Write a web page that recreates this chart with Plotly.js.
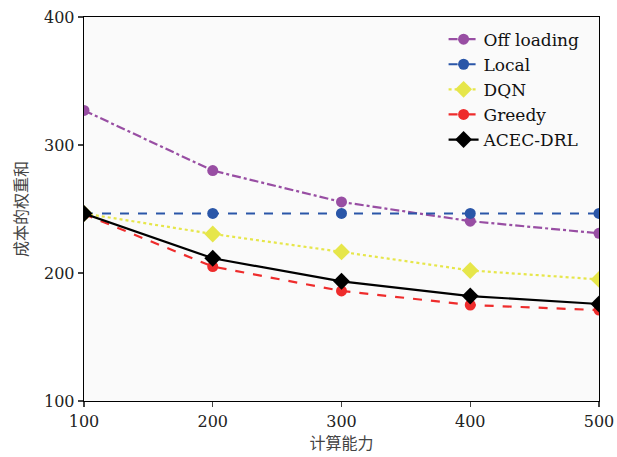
<!DOCTYPE html>
<html><head><meta charset="utf-8">
<script src="https://cdn.plot.ly/plotly-3.0.1.min.js"></script>
<style>html,body{margin:0;padding:0;background:#fff;}</style>
</head><body><div id="chart" style="width:617px;height:457px;"></div>
<script>
const computeCapacity = [100, 200, 300, 400, 500];
const offLoading = [327, 280, 255.5, 240.5, 231];
const local = [246.5, 246.5, 246.5, 246.5, 246.5];
const dqn = [246.5, 230.5, 216.5, 202, 195];
const greedy = [246, 205, 186, 175, 171];
const acecDrl = [246.5, 211.5, 193.5, 182, 175.8];
const yTicks = [100, 200, 300, 400];
const xTicks = [100, 200, 300, 400, 500];

const mk = (name, y, color, dash, symbol, size) => ({
  x: computeCapacity, y: y, name: name, type: 'scatter', mode: 'lines+markers',
  line: {color: color, dash: dash, width: 2.2},
  marker: {color: color, symbol: symbol, size: size}
});
const traces = [
  mk('Off loading', offLoading, '#984ea3', 'dashdot', 'circle', 11),
  mk('Local', local, '#2a56a8', 'dash', 'circle', 11),
  mk('DQN', dqn, '#e6e64a', 'dot', 'diamond', 13),
  mk('Greedy', greedy, '#ee2c2c', 'dash', 'circle', 11),
  mk('ACEC-DRL', acecDrl, '#000000', 'solid', 'diamond', 13)
];
const serif = 'DejaVu Serif';
const layout = {
  width: 617, height: 457,
  margin: {l: 84, r: 18, t: 17, b: 56},
  paper_bgcolor: '#ffffff', plot_bgcolor: '#fafafa',
  font: {family: serif, size: 16, color: '#222'},
  showlegend: true,
  legend: {x: 0.972, y: 0.988, xanchor: 'right', yanchor: 'top', bgcolor: 'rgba(0,0,0,0)',
           font: {family: serif, size: 17, color: '#111'}, tracegroupgap: 0},
  xaxis: {range: [100, 500], tickvals: xTicks, ticks: 'outside', ticklen: 5, tickwidth: 1.2,
          showline: true, linecolor: '#000', linewidth: 1.3, mirror: true, showgrid: false, zeroline: false,
          title: {text: '计算能力', font: {family: 'Noto Sans CJK SC', size: 16, color: '#444'}, standoff: 2},
          tickfont: {family: serif, size: 16, color: '#222'}},
  yaxis: {range: [100, 400], tickvals: yTicks, ticks: 'outside', ticklen: 5, tickwidth: 1.2,
          showline: true, linecolor: '#000', linewidth: 1.3, mirror: true, showgrid: false, zeroline: false,
          title: {text: '成本的权重和', font: {family: 'Noto Sans CJK SC', size: 16, color: '#444'}, standoff: 12},
          tickfont: {family: serif, size: 16, color: '#222'}}
};
Plotly.newPlot('chart', traces, layout, {displayModeBar: false, staticPlot: true});
</script></body></html>
